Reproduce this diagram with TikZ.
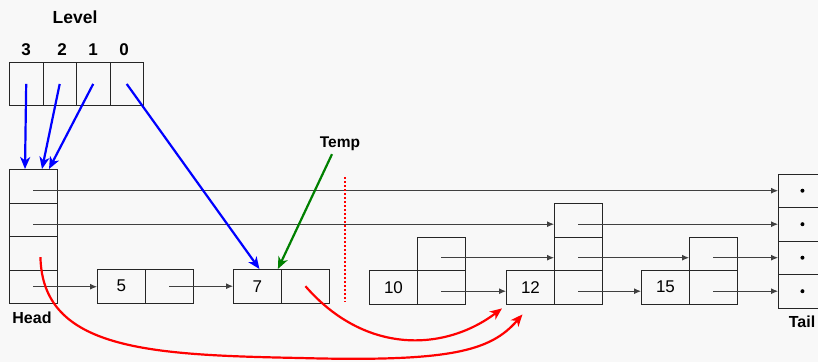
\documentclass[tikz,border=0pt]{standalone}
\usepackage{fontspec}
\setmainfont{Liberation Sans}
\usetikzlibrary{arrows.meta}
\definecolor{bg}{HTML}{F8F8F8}
\definecolor{dgreen}{HTML}{008000}
\begin{document}
\begin{tikzpicture}[x=1pt,y=-1pt,
 cell/.style={draw=black!85, line width=0.9pt, minimum width=48pt, minimum height=33.5pt, inner sep=0pt, font=\fontsize{17}{17}\selectfont, anchor=north west},
 lvcell/.style={cell, minimum width=33.5pt, minimum height=43pt},
 lbl/.style={font=\fontsize{16}{16}\selectfont\bfseries, inner sep=0pt},
 link/.style={draw=black!75, line width=0.9pt, -{Latex[length=7pt,width=6pt]}},
 ptr/.style={line width=2.2pt, -{Stealth[length=12pt,width=10pt,inset=3.5pt]}},
]
\fill[bg] (0,0) rectangle (818,362);
\useasboundingbox (0,0) rectangle (818,362);
\clip (0,0) rectangle (818,362);
% level array
\node[lvcell] (L3) at (9,62) {};
\node[lvcell] (L2) at (42.5,62) {};
\node[lvcell] (L1) at (76,62) {};
\node[lvcell] (L0) at (109.5,62) {};
\node[lbl, font=\fontsize{17.5}{17.5}\selectfont\bfseries] (lev) at (75,17) {Level};
\node[lbl, font=\fontsize{17}{17}\selectfont\bfseries] (d3) at (26,50) {3};
\node[lbl, font=\fontsize{17}{17}\selectfont\bfseries] (d2) at (62,50) {2};
\node[lbl, font=\fontsize{17}{17}\selectfont\bfseries] (d1) at (93,50) {1};
\node[lbl, font=\fontsize{17}{17}\selectfont\bfseries] (d0) at (124,50) {0};
% head
\node[cell] (h1) at (9,169) {};
\node[cell] (h2) at (9,202.5) {};
\node[cell] (h3) at (9,236) {};
\node[cell] (h4) at (9,269.5) {};
\node[lbl] (headl) at (32,318) {Head};
% nodes
\node[cell] (n5a) at (97,269) {5};
\node[cell] (n5b) at (145,269) {};
\node[cell] (n7a) at (233,269) {7};
\node[cell] (n7b) at (281,269) {};
\node[cell] (n10a) at (369,270) {10};
\node[cell] (n10b) at (417,270) {};
\node[cell] (n10c) at (417,236.5) {};
\node[cell] (n12a) at (506,270) {12};
\node[cell] (n12b) at (554,270) {};
\node[cell] (n12c) at (554,236.5) {};
\node[cell] (n12d) at (554,203) {};
\node[cell] (n15a) at (641,270) {15};
\node[cell] (n15b) at (689,270) {};
\node[cell] (n15c) at (689,236.5) {};
% tail
\node[cell] (t1) at (778,173.5) {};
\node[cell] (t2) at (778,207) {};
\node[cell] (t3) at (778,240.5) {};
\node[cell] (t4) at (778,274) {};
\foreach \t in {t1,t2,t3,t4} \fill (\t.center) circle (2pt);
\node[lbl] (taill) at (802,322) {Tail};
\node[lbl, font=\fontsize{15.5}{15.5}\selectfont\bfseries] (temp) at (340,144) {Temp};
% links
\draw[link] (h1.center |- t1.center) -- (t1.west);
\draw[link] (h2.center |- t2.center) -- (n12d.west |- t2.center);
\draw[link] (n12d.center |- t2.center) -- (t2.west);
\draw[link] (h4.center) -- (n5a.west |- h4.center);
\draw[link] (n5b.center) -- (n7a.west);
\draw[link] (n10c.center |- t3.center) -- (n12c.west |- t3.center);
\draw[link] (n10b.center |- t4.center) -- (n12a.west |- t4.center);
\draw[link] (n12c.center |- t3.center) -- (n15c.west |- t3.center);
\draw[link] (n12b.center |- t4.center) -- (n15a.west |- t4.center);
\draw[link] (n15c.center |- t3.center) -- (t3.west);
\draw[link] (n15b.center |- t4.center) -- (t4.west);
% pointers
\draw[ptr, blue] (L3.center) -- ([xshift=16pt]h1.north west);
\draw[ptr, blue] (L2.center) -- ([xshift=33pt]h1.north west);
\draw[ptr, blue] (L1.center) -- ([xshift=40pt]h1.north west);
\draw[ptr, blue] (L0.center) -- ([xshift=2pt]n7a.north);
\draw[ptr, dgreen] ([xshift=-8pt,yshift=-3pt]temp.south) -- ([xshift=-4pt]n7a.north east);
\draw[red, line width=2.4pt, dash pattern=on 2pt off 2pt] (345,177) -- (345,302);
\draw[ptr, red] (n7b.center) .. controls +(60,69) and +(-57,43) .. ([xshift=-4pt,yshift=-4pt]n12a.south west);
\draw[ptr, red] ([xshift=7pt,yshift=-4pt]h3.center) .. controls +(2,93) and +(-150,-3) .. (300,358) .. controls +(150,4) and +(-32,37) .. ([xshift=-8pt,yshift=-10pt]n12a.south);
\end{tikzpicture}
\end{document}
